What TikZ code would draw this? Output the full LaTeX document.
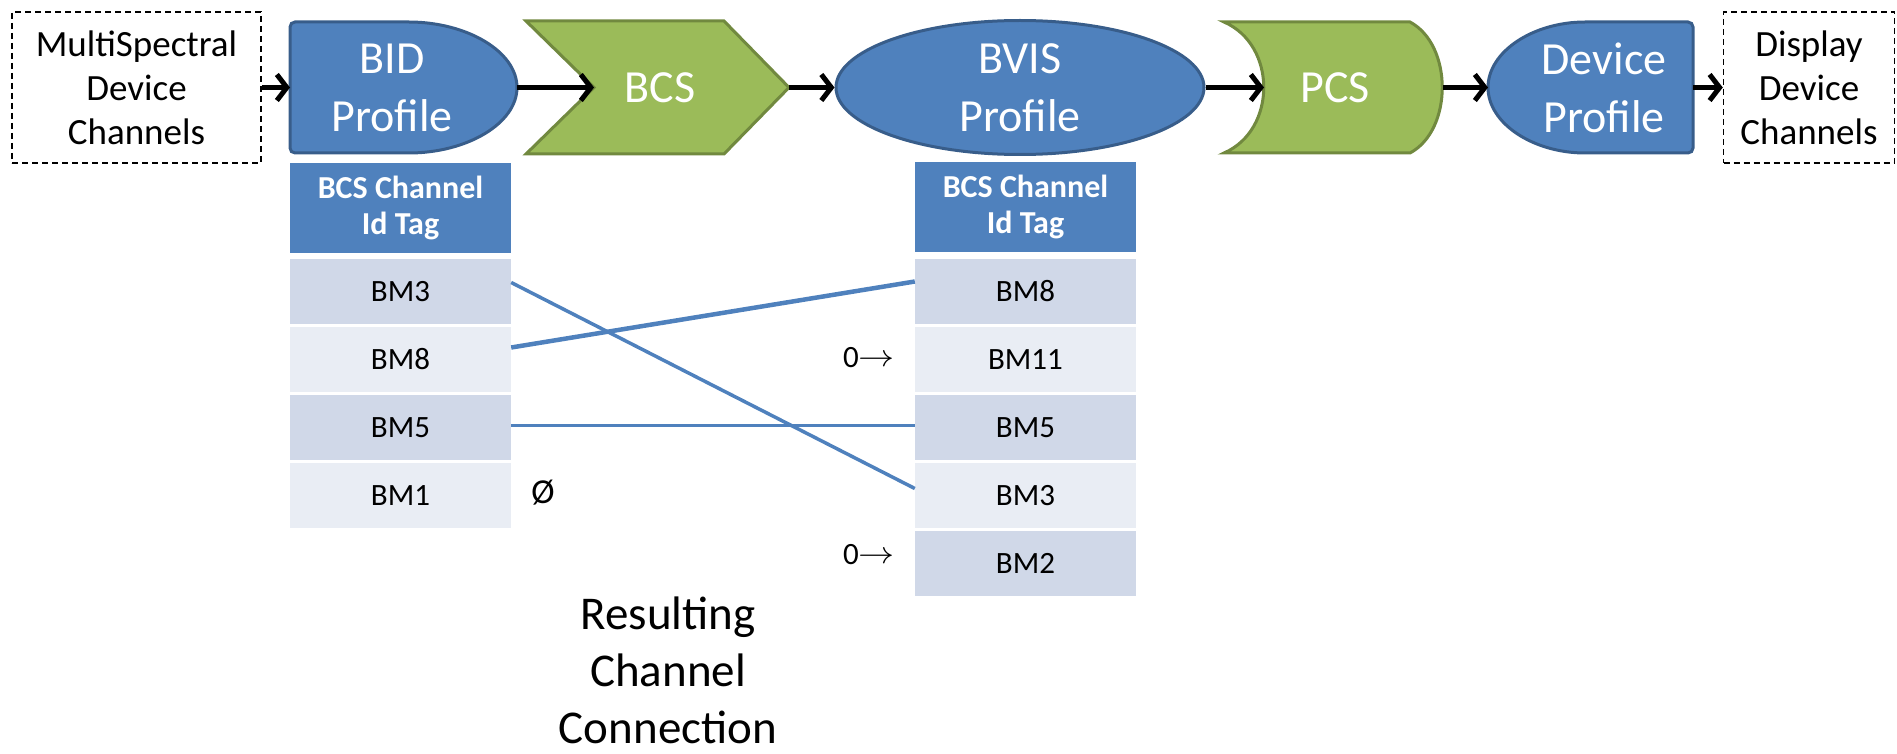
\documentclass[tikz,border=0pt]{standalone}
\usepackage{fontspec}
\setmainfont{Carlito}
\usetikzlibrary{arrows.meta,shapes.geometric}
\definecolor{blueF}{HTML}{4F81BD}
\definecolor{blueD}{HTML}{385D8A}
\definecolor{greenF}{HTML}{9BBB59}
\definecolor{greenD}{HTML}{71893F}
\definecolor{bandA}{HTML}{D0D8E8}
\definecolor{bandB}{HTML}{E9EDF4}
\tikzset{
  dashbox/.style={draw=black, line width=1.5pt, dash pattern=on 6pt off 4pt, inner sep=0pt},
  lbl/.style={font=\fontsize{37}{44}\selectfont, align=center},
  bluesh/.style={fill=blueF, draw=blueD, line width=3pt},
  greensh/.style={fill=greenF, draw=greenD, line width=3pt},
  shapetext/.style={text=white, font=\fontsize{46}{58}\selectfont, align=center},
  flow/.style={line width=5pt, -{Straight Barb[length=10pt,width=26pt]}},
  hdr/.style={fill=blueF, text=white, font=\bfseries\fontsize{32}{36}\selectfont, align=center,
              minimum width=221pt, minimum height=89pt, inner sep=0pt},
  rowA/.style={fill=bandA, minimum width=221pt, minimum height=65pt, inner sep=0pt, font=\fontsize{31}{36}\selectfont},
  rowB/.style={fill=bandB, minimum width=221pt, minimum height=65pt, inner sep=0pt, font=\fontsize{31}{36}\selectfont},
  link/.style={draw=blueF, line width=3.5pt},
  note/.style={font=\fontsize{31}{36}\selectfont, inner sep=0pt},
  res/.style={font=\fontsize{47}{57}\selectfont, align=center}
}
\newcommand{\zeroarrow}{0\raisebox{1pt}{\scalebox{1.45}[1.25]{$\rightarrow$}}}
\begin{document}
\begin{tikzpicture}[x=1pt,y=-1pt]
\useasboundingbox (0,0) rectangle (1897,754);

% dashed end boxes
\node[dashbox, lbl, minimum width=249pt, minimum height=151pt] (ms) at (136.5,87.5) {MultiSpectral\\Device\\Channels};
\node[dashbox, lbl, minimum width=171pt, minimum height=151pt] (disp) at (1809,87.5) {Display\\Device\\Channels};

% BID Profile (delay shape)
\path[bluesh, rounded corners=5pt] (290,22) -- (404,22) arc[start angle=-90, end angle=90, x radius=113, y radius=65.5] -- (290,153) -- cycle;
\node[shapetext] (bid) at (392,88) {BID\\Profile};
\coordinate (bidW) at (290,87.5);
\coordinate (bidE) at (517,87.5);

% BCS chevron
\path[greensh] (526,21) -- (724,21) -- (789,87.5) -- (724,154) -- (526,154) -- (594,87.5) -- cycle;
\node[shapetext] (bcs) at (660,87.5) {BCS};
\coordinate (bcsW) at (594,87.5);
\coordinate (bcsE) at (789,87.5);

% BVIS ellipse
\node[ellipse, bluesh, shapetext, minimum width=368pt, minimum height=134pt, inner sep=0pt] (bvis) at (1020,87.5) {BVIS\\Profile};

% PCS (stored data)
\path[greensh] (1224,22) -- (1410,22) .. controls (1453,45) and (1453,130) .. (1410,153) -- (1224,153) .. controls (1277,130) and (1277,45) .. (1224,22) -- cycle;
\node[shapetext] (pcs) at (1335,87.5) {PCS};
\coordinate (pcsW) at (1264,87.5);
\coordinate (pcsE) at (1443,87.5);

% Device Profile (mirrored delay)
\path[bluesh, rounded corners=5pt] (1693,22) -- (1590,22) arc[start angle=-90, end angle=-270, x radius=102, y radius=65.5] -- (1693,153) -- cycle;
\node[shapetext] (dev) at (1604,88) {Device\\Profile};
\coordinate (devW) at (1488,87.5);
\coordinate (devE) at (1693,87.5);

% flow arrows
\draw[flow] (ms.east) -- (bidW);
\draw[flow] (bidE) -- (bcsW);
\draw[flow] (bcsE) -- (bvis.west);
\draw[flow] (bvis.east) -- (pcsW);
\draw[flow] (pcsE) -- (devW);
\draw[flow] (devE) -- (disp.west);

% left table
\node[hdr] (lh) at (400.5,208) {BCS Channel\\Id Tag};
\node[rowA] (l1) at (400.5,291.5) {BM3};
\node[rowB] (l2) at (400.5,359.5) {BM8};
\node[rowA] (l3) at (400.5,427.5) {BM5};
\node[rowB] (l4) at (400.5,495.5) {BM1};

% right table
\node[hdr] (rh) at (1025.5,207) {BCS Channel\\Id Tag};
\node[rowA] (r1) at (1025.5,291.5) {BM8};
\node[rowB] (r2) at (1025.5,359.5) {BM11};
\node[rowA] (r3) at (1025.5,427.5) {BM5};
\node[rowB] (r4) at (1025.5,495.5) {BM3};
\node[rowA] (r5) at (1025.5,563.5) {BM2};

% channel links
\draw[link] ([yshift=9pt]l1.east) -- ([yshift=7pt]r4.west);
\draw[link, line width=4.5pt] ([yshift=12pt]l2.east) -- ([yshift=10pt]r1.west);
\draw[link] ([yshift=2pt]l3.east) -- ([yshift=2pt]r3.west);

% annotations
\node[note] (z1) at (869,358) {\zeroarrow};
\node[note] (z2) at (869,555) {\zeroarrow};
\node[note, font=\fontsize{35}{40}\selectfont] (nul) at (543,493) {Ø};

\node[res] (res) at (668,670) {Resulting\\Channel\\Connection};
\end{tikzpicture}
\end{document}
